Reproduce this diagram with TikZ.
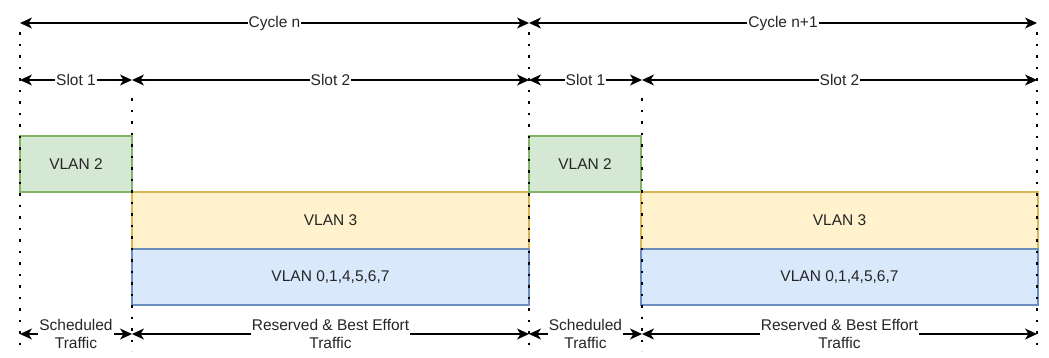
\documentclass[tikz,border=0pt]{standalone}
\usepackage{fontspec}
\setmainfont{Liberation Sans}
\usetikzlibrary{arrows.meta}

\definecolor{greenfill}{HTML}{D5E8D4}
\definecolor{greenline}{HTML}{82B366}
\definecolor{yellowfill}{HTML}{FFF2CC}
\definecolor{yellowline}{HTML}{D6B656}
\definecolor{bluefill}{HTML}{DAE8FC}
\definecolor{blueline}{HTML}{6C8EBF}

\begin{document}
\begin{tikzpicture}[
  x=1pt, y=-1pt,
  every node/.style={font=\fontsize{15.5}{18.6}\selectfont, text=black!85},
  slotbox/.style={draw, line width=1.3pt, rectangle, anchor=north west,
    inner sep=0pt, outer sep=0pt},
  vlantwo/.style={slotbox, fill=greenfill, draw=greenline,
    minimum width=112pt, minimum height=56pt},
  vlanthree/.style={slotbox, fill=yellowfill, draw=yellowline,
    minimum width=397pt, minimum height=57pt},
  vlanrest/.style={slotbox, fill=bluefill, draw=blueline,
    minimum width=397pt, minimum height=56pt},
  guide/.style={line width=2.6pt, dash pattern=on 2.6pt off 8.9pt},
  dimline/.style={line width=1.3pt,
    {Stealth[length=12pt,width=11pt,inset=3.5pt]}-{Stealth[length=12pt,width=11pt,inset=3.5pt]}},
  lbl/.style={fill=white, inner xsep=1pt, inner ysep=0pt, align=center},
]
\useasboundingbox (0,0) rectangle (1049,357);

% coloured slot boxes of both cycles
\foreach \o/\c in {0/a, 509/b} {
  \node[vlantwo]   (vtwo\c)   at (20+\o,136) {VLAN 2};
  \node[vlanthree] (vthree\c) at (132+\o,192) {VLAN 3};
  \node[vlanrest]  (vrest\c)  at (132+\o,249) {VLAN 0,1,4,5,6,7};
}

% boundaries: cycle starts reach the top, slot starts begin lower
\coordinate (g0t) at (20,32);    \coordinate (g0b) at (20,351);
\coordinate (g1t) at (132,98);   \coordinate (g1b) at (132,351);
\coordinate (g2t) at (529,32);   \coordinate (g2b) at (529,351);
\coordinate (g3t) at (642,98);   \coordinate (g3b) at (642,351);
\coordinate (g4t) at (1037,32);  \coordinate (g4b) at (1037,351);
\foreach \i in {0,...,4} \draw[guide] (g\i t) -- (g\i b);

% cycle dimension lines
\coordinate (c0) at (20,23);   \coordinate (c1) at (529,23);
\coordinate (c2) at (1037,23);
\draw[dimline] (c0) -- node[lbl] (lcyc1) {Cycle n} (c1);
\draw[dimline] (c1) -- node[lbl] (lcyc2) {Cycle n+1} (c2);

% slot dimension lines
\coordinate (s0) at (20,80);   \coordinate (s1) at (132,80);
\coordinate (s2) at (529,80);  \coordinate (s3) at (642,80);
\coordinate (s4) at (1037,80);
\draw[dimline] (s0) -- node[lbl] (ls1a) {Slot 1} (s1);
\draw[dimline] (s1) -- node[lbl] (ls2a) {Slot 2} (s2);
\draw[dimline] (s2) -- node[lbl] (ls1b) {Slot 1} (s3);
\draw[dimline] (s3) -- node[lbl] (ls2b) {Slot 2} (s4);

% traffic class dimension lines
\coordinate (t0) at (20,334);   \coordinate (t1) at (132,334);
\coordinate (t2) at (529,334);  \coordinate (t3) at (642,334);
\coordinate (t4) at (1037,334);
\draw[dimline] (t0) -- node[lbl] (ltsa) {Scheduled\\Traffic} (t1);
\draw[dimline] (t1) -- node[lbl] (ltra) {Reserved \& Best Effort\\Traffic} (t2);
\draw[dimline] (t2) -- node[lbl] (ltsb) {Scheduled\\Traffic} (t3);
\draw[dimline] (t3) -- node[lbl] (ltrb) {Reserved \& Best Effort\\Traffic} (t4);
\end{tikzpicture}
\end{document}
